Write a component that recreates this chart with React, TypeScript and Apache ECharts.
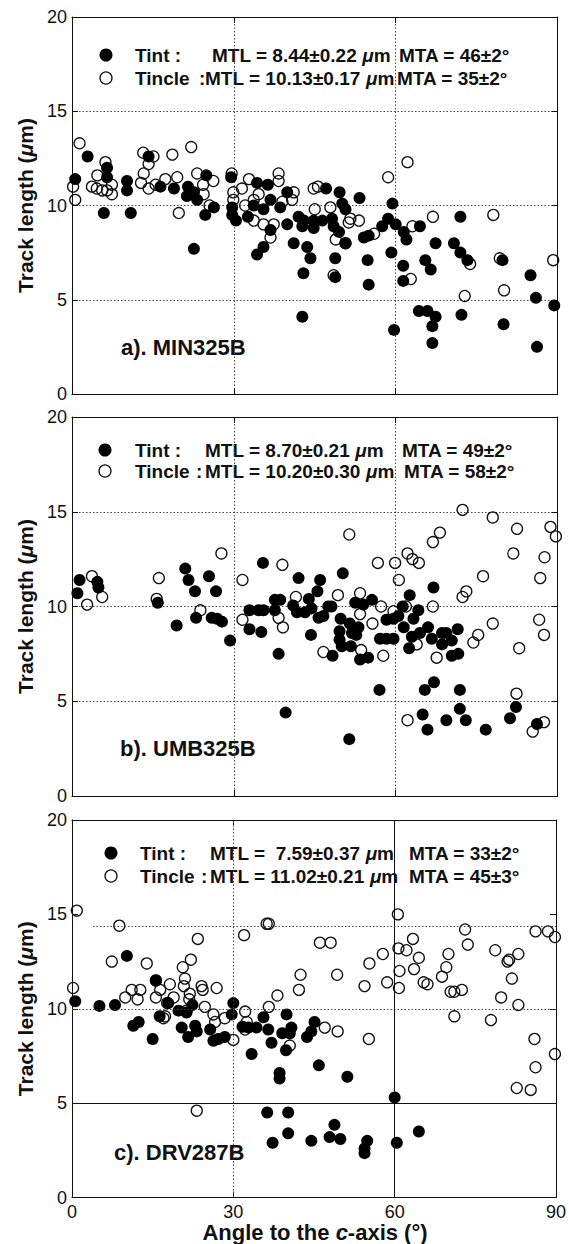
import React, { useEffect, useRef } from "react";
import * as echarts from "echarts";

// ---------- data ----------
const xTicks = { min: 0, max: 90, interval: 30 };
const yTicks = { min: 0, max: 20, interval: 5 };

const panelNames = ["a). MIN325B", "b). UMB325B", "c). DRV287B"];
const mtlTint = ["8.44±0.22", "8.70±0.21", " 7.59±0.37"];
const mtaTint = ["46±2°", "49±2°", "33±2°"];
const mtlTincle = ["10.13±0.17", "10.20±0.30", "11.02±0.21"];
const mtaTincle = ["35±2°", "58±2°", "45±3°"];

const tintA = [
  [0.6, 11.4], [2.9, 12.6], [6.5, 12.0], [6.5, 11.5], [5.9, 9.6], [10.2, 11.3], [10.2, 10.8], [10.9, 9.6],
  [14.2, 12.6], [16.4, 11.0], [18.9, 10.9], [21.5, 11.0], [21.3, 10.5], [22.6, 10.7], [23.2, 10.3], [24.9, 11.6],
  [26.3, 9.9], [24.7, 9.5], [22.6, 7.7], [29.5, 11.5], [29.7, 9.9], [29.7, 9.5], [30.4, 9.2], [32.6, 9.4],
  [34.3, 11.2], [36.3, 11.1], [36.8, 10.3], [35.5, 9.8], [33.7, 10.0], [36.8, 8.7], [35.5, 7.8], [34.3, 7.4],
  [38.6, 9.9], [39.9, 10.7], [39.9, 9.0],
  [42.0, 9.4], [43.0, 9.2], [44.8, 9.2], [46.4, 9.2], [48.2, 9.3], [42.7, 8.9], [44.8, 8.8], [47.1, 10.9],
  [49.6, 10.7], [50.1, 10.1], [50.7, 9.8], [48.5, 8.9], [49.5, 8.6], [53.3, 10.4], [41.1, 8.0], [43.6, 7.8],
  [44.2, 7.2], [42.9, 6.4], [48.8, 7.2], [48.8, 6.2], [50.7, 8.0], [54.1, 8.3], [55.0, 8.4], [54.8, 7.1],
  [55.0, 5.8], [57.5, 8.9], [58.6, 9.3], [60.0, 9.0], [61.5, 8.6], [62.0, 8.2], [59.4, 10.1], [59.2, 7.5],
  [61.4, 6.8], [61.4, 6.0], [64.5, 8.9], [67.4, 8.0], [65.5, 7.1], [66.5, 6.6], [72.0, 9.4], [70.8, 8.0],
  [72.0, 7.5], [73.3, 7.1], [79.8, 7.1], [42.7, 4.1], [59.7, 3.4], [64.3, 4.4], [65.9, 4.4], [67.4, 4.1],
  [66.8, 3.6], [66.8, 2.7], [72.2, 4.2], [80.0, 3.7], [85.0, 6.3], [86.0, 5.1], [89.4, 4.7], [86.2, 2.5],
];
const tincleA = [
  [1.4, 13.3], [0.6, 10.3], [0.2, 11.0], [6.2, 12.3], [4.7, 11.6], [3.7, 11.0], [4.6, 10.9], [5.6, 10.8],
  [6.5, 10.8], [7.4, 10.6], [7.4, 11.1], [13.2, 12.8], [15.1, 12.6], [14.2, 12.2], [13.3, 11.7], [12.8, 11.2],
  [14.2, 10.9], [15.5, 11.1], [17.3, 11.4], [19.5, 11.5], [18.6, 12.7], [22.1, 13.1], [19.8, 9.6], [23.2, 11.7],
  [26.2, 11.3], [24.3, 11.1], [24.4, 10.6], [25.5, 10.0], [29.6, 11.7], [29.9, 10.7], [29.9, 10.3], [31.5, 10.9],
  [32.8, 11.4], [32.1, 10.0], [33.7, 10.3], [34.6, 10.6], [33.7, 9.2], [35.5, 9.0], [36.8, 8.3], [37.4, 9.0],
  [38.3, 11.7], [38.3, 11.3], [39.0, 10.2],
  [41.1, 10.7], [40.8, 10.3], [44.8, 10.9], [45.6, 11.0], [45.0, 9.8], [47.9, 9.9], [51.6, 9.3], [53.2, 9.2],
  [51.3, 9.1], [48.9, 8.2], [50.7, 8.0], [48.5, 6.3], [56.0, 8.5], [58.6, 11.5], [62.2, 12.3], [63.1, 8.9],
  [62.8, 6.1], [66.9, 9.4], [78.1, 9.5], [79.3, 7.2], [73.8, 6.9], [72.8, 5.2], [80.1, 5.5], [89.2, 7.1],
];

const tintB = [
  [1.4, 11.4], [1.0, 10.7], [4.7, 11.3], [4.9, 11.0], [15.9, 10.2], [19.4, 9.0], [21.0, 12.0], [21.6, 11.4],
  [22.8, 10.8], [23.0, 9.4], [25.4, 11.6], [26.7, 10.8], [25.9, 9.4], [26.9, 9.35], [27.8, 9.2], [29.3, 8.2],
  [32.9, 9.8], [34.6, 9.8], [35.5, 9.8], [32.9, 8.8], [35.1, 8.65], [35.4, 12.3], [37.6, 10.35], [38.6, 10.35],
  [37.6, 9.8], [38.3, 7.5], [39.6, 4.4],
  [42.0, 11.5], [46.0, 11.4], [45.5, 10.8], [43.9, 10.4], [50.2, 11.75], [41.0, 10.05], [41.7, 9.7], [43.2, 9.7],
  [44.4, 9.9], [45.7, 9.4], [46.6, 9.5], [47.5, 10.0], [48.1, 10.0], [49.8, 9.35], [51.5, 9.1], [53.1, 8.9],
  [51.9, 8.6], [52.7, 8.5], [49.6, 8.7], [49.6, 8.25], [50.0, 7.9], [51.7, 7.9], [53.4, 7.2], [54.9, 7.3],
  [48.3, 7.4], [44.3, 8.5], [52.5, 10.2], [54.0, 10.1], [55.6, 10.35], [57.1, 8.3], [58.3, 8.3], [59.6, 8.3],
  [58.3, 9.3], [59.6, 9.35], [60.5, 9.5], [61.5, 8.9], [61.3, 10.0], [62.6, 10.6], [64.2, 9.8], [63.3, 9.35],
  [63.0, 8.4], [64.5, 8.6], [62.5, 7.8], [66.0, 8.9], [66.7, 8.3], [67.0, 11.0], [68.6, 8.6], [69.4, 8.6],
  [70.4, 8.2], [68.6, 8.0], [71.5, 8.8], [70.4, 7.4], [71.6, 7.5], [57.0, 5.6], [65.4, 5.6], [67.1, 6.0],
  [71.9, 5.6], [65.0, 4.3], [65.9, 3.5], [71.9, 4.6], [73.0, 4.0], [69.4, 4.0], [76.7, 3.5], [51.4, 3.0],
  [81.2, 4.1], [82.3, 4.7], [86.2, 3.8],
];
const tincleB = [
  [3.7, 11.6], [2.8, 10.1], [5.6, 10.5], [16.1, 11.5], [15.7, 10.4], [23.8, 9.8], [27.7, 12.8], [31.6, 11.4],
  [31.6, 9.3], [39.0, 12.2], [38.3, 9.4], [39.1, 8.9],
  [51.4, 13.8], [41.5, 10.5], [49.3, 10.6], [53.4, 10.7], [53.4, 9.6], [57.3, 10.0], [55.7, 9.1], [53.6, 7.7],
  [46.6, 7.6], [57.7, 7.4], [56.7, 12.3], [59.9, 12.3], [60.6, 11.4], [59.6, 9.75], [62.2, 12.8], [63.1, 12.5],
  [64.3, 12.3], [66.9, 13.4], [68.2, 13.9], [72.4, 15.1], [78.0, 14.7], [81.8, 12.8], [82.5, 14.1], [76.2, 11.6],
  [73.1, 10.8], [72.4, 10.5], [66.9, 10.0], [61.9, 10.0], [63.9, 8.0], [67.6, 7.3], [74.4, 8.1], [75.3, 8.5],
  [78.0, 9.1], [82.9, 7.8], [82.4, 5.4], [62.2, 4.0],
  [88.7, 14.2], [89.7, 13.7], [87.6, 12.6], [86.8, 11.5], [86.6, 9.3], [87.5, 8.5], [85.4, 3.4], [87.5, 3.9],
];

const tintC = [
  [0.6, 10.4], [5.1, 10.15], [8.0, 10.2], [10.2, 12.8], [11.4, 9.1], [12.4, 9.3], [15.0, 8.4], [15.6, 11.5],
  [16.3, 9.6], [17.9, 10.3], [19.8, 9.9], [21.3, 9.8], [22.4, 10.2], [20.4, 9.0], [21.6, 8.5], [22.9, 9.1],
  [23.2, 8.8], [25.7, 8.9], [26.3, 8.3], [27.2, 8.4], [28.4, 8.5], [30.0, 10.3], [29.7, 9.7], [31.7, 9.05],
  [32.8, 9.0], [34.3, 9.0], [33.4, 7.6], [35.6, 9.55], [36.5, 8.9], [37.1, 8.2], [38.6, 6.6], [38.6, 6.3],
  [39.9, 9.7], [39.1, 8.7], [39.8, 7.8], [36.3, 4.5], [37.3, 2.9], [40.2, 4.5], [40.2, 3.4],
  [40.8, 9.0], [40.5, 8.7], [45.1, 9.3], [44.5, 8.8], [43.7, 8.5], [45.9, 7.0], [51.2, 6.4], [60.0, 5.3],
  [44.5, 3.0], [47.9, 3.2], [48.8, 3.85], [49.9, 3.1], [54.9, 3.0], [54.4, 2.35], [54.4, 2.6], [60.4, 2.9],
  [64.5, 3.5],
];
const tincleC = [
  [0.9, 15.2], [0.2, 11.1], [8.8, 14.4], [7.4, 12.5], [13.9, 12.4], [23.4, 13.7], [32.0, 13.9], [36.2, 14.5],
  [36.6, 14.5], [9.9, 10.6], [11.1, 11.0], [12.7, 11.0], [12.2, 10.5], [15.6, 11.5], [16.4, 11.0], [15.6, 10.6],
  [18.2, 11.3], [18.9, 10.6], [17.7, 10.3], [17.3, 9.6], [17.0, 9.5], [20.6, 12.2], [21.0, 11.6], [22.1, 12.6],
  [20.8, 11.2], [21.9, 10.8], [21.8, 10.5], [21.3, 9.9], [24.1, 11.2], [24.3, 11.0], [26.9, 11.1], [24.7, 10.1],
  [26.3, 9.7], [26.6, 9.3], [28.4, 9.5], [30.0, 8.35], [32.2, 9.85], [32.5, 9.3], [32.2, 8.9], [36.6, 10.1],
  [38.2, 10.7], [23.2, 4.6],
  [60.6, 15.0], [46.1, 13.5], [48.1, 13.5], [42.5, 11.8], [42.2, 11.0], [49.3, 11.8], [47.0, 9.0], [49.4, 8.8],
  [55.2, 8.4], [40.5, 8.05], [54.4, 11.2], [55.3, 12.4], [57.8, 12.9], [58.6, 11.4], [60.7, 13.2], [62.2, 13.1],
  [63.4, 13.7], [64.5, 12.7], [60.9, 12.0], [60.8, 11.1], [63.6, 12.1], [65.4, 11.4], [66.1, 11.3], [68.8, 11.7],
  [69.6, 12.2], [70.0, 12.9], [70.4, 10.9], [71.1, 10.9], [72.5, 11.0], [71.1, 9.6], [73.1, 14.2], [73.6, 13.4],
  [77.9, 9.4], [78.7, 13.1], [79.8, 10.6], [81.0, 12.5], [81.3, 12.6], [81.8, 11.6], [83.0, 12.9], [83.0, 10.2],
  [82.7, 5.8], [86.2, 14.1], [88.5, 14.1], [89.8, 13.8], [86.0, 8.4], [86.2, 6.9], [85.3, 5.7], [89.8, 7.6],
];

// panel c reference lines (values on the axes)
const panelCDottedY = [10];
const panelCSolidY = [5];
const panelCDottedX = [30];
const panelCSolidX = [60];
const panelCOffsetLine = { y: 14.36, xFrom: 3.9, xTo: 90 };

const tintSets = [tintA, tintB, tintC];
const tincleSets = [tincleA, tincleB, tincleC];

// ---------- layout ----------
const FONT = "'Liberation Sans', Arial, Helvetica, sans-serif";
const INK = "#111111";
const grids = [
  { top: 17, height: 377 },
  { top: 417, height: 379 },
  { top: 820, height: 377.5 },
];
const legendPos = [
  { cx: 106, y1: 55, y2: 78, xName: 135, xColon: 199, xMtl1: 212, xMtl2: 205, xMta1: 399, xMta2: 397 },
  { cx: 105, y1: 450, y2: 471, xName: 135, xColon: 196, xMtl1: 205, xMtl2: 205, xMta1: 402, xMta2: 404 },
  { cx: 111, y1: 853, y2: 876, xName: 140, xColon: 201, xMtl1: 210, xMtl2: 210, xMta1: 409, xMta2: 409 },
];
const labelPos = [
  { x: 121, y: 347 },
  { x: 120, y: 748 },
  { x: 114, y: 1152 },
];

const dotted = { type: [1.5, 2] as any, color: "#444", width: 1 };
const solid = { type: "solid" as any, color: INK, width: 1 };

function txt(x: number, y: number, text: string, size: number, extra: any = {}) {
  return {
    type: "text",
    x,
    y,
    silent: true,
    ...extra,
    style: {
      text,
      fontSize: size,
      fontWeight: "bold",
      fontFamily: FONT,
      fill: INK,
      align: extra.align || "left",
      verticalAlign: "middle",
      rich: {
        i: { fontStyle: "italic", fontWeight: "bold", fontSize: size, fontFamily: FONT, fill: INK },
      },
    },
  };
}

function buildOption() {
  const xAxis: any[] = [];
  const yAxis: any[] = [];
  const series: any[] = [];
  const graphic: any[] = [];

  grids.forEach((g, i) => {
    const axisLine = { show: true, onZero: false, lineStyle: { color: INK, width: 1 } };
    const axisTick = { show: true, inside: true, length: 6, lineStyle: { color: INK, width: 1 } };
    xAxis.push({
      gridIndex: i, type: "value", ...xTicks, position: "bottom",
      axisLine, axisTick,
      axisLabel: { show: i === 2, fontSize: 18, color: INK, margin: 5, fontFamily: FONT },
      splitLine: { show: i < 2, lineStyle: dotted },
    });
    xAxis.push({
      gridIndex: i, type: "value", ...xTicks, position: "top",
      axisLine, axisTick, axisLabel: { show: false }, splitLine: { show: false },
    });
    yAxis.push({
      gridIndex: i, type: "value", ...yTicks, position: "left",
      axisLine, axisTick,
      axisLabel: { show: true, fontSize: 18, color: INK, margin: 5, fontFamily: FONT },
      splitLine: { show: i < 2, lineStyle: dotted },
    });
    yAxis.push({
      gridIndex: i, type: "value", ...yTicks, position: "right",
      axisLine, axisTick, axisLabel: { show: false }, splitLine: { show: false },
    });

    const tincleSeries: any = {
      name: "Tincle " + panelNames[i],
      type: "scatter",
      xAxisIndex: 2 * i,
      yAxisIndex: 2 * i,
      data: tincleSets[i],
      symbol: "circle",
      symbolSize: 11,
      itemStyle: { color: "rgba(255,255,255,0)", borderColor: INK, borderWidth: 1.3, opacity: 1 },
      z: 3,
    };
    if (i === 2) {
      tincleSeries.markLine = {
        silent: true,
        symbol: ["none", "none"],
        label: { show: false },
        animation: false,
        data: [
          ...panelCDottedY.map((v) => ({ yAxis: v, lineStyle: dotted })),
          ...panelCSolidY.map((v) => ({ yAxis: v, lineStyle: solid })),
          ...panelCDottedX.map((v) => ({ xAxis: v, lineStyle: dotted })),
          ...panelCSolidX.map((v) => ({ xAxis: v, lineStyle: solid })),
          [
            { coord: [panelCOffsetLine.xFrom, panelCOffsetLine.y], lineStyle: dotted },
            { coord: [panelCOffsetLine.xTo, panelCOffsetLine.y] },
          ],
        ],
      };
    }
    series.push(tincleSeries);
    series.push({
      name: "Tint " + panelNames[i],
      type: "scatter",
      xAxisIndex: 2 * i,
      yAxisIndex: 2 * i,
      data: tintSets[i],
      symbol: "circle",
      symbolSize: 12,
      itemStyle: { color: "#000", opacity: 1 },
      z: 4,
    });

    // legend
    const L = legendPos[i];
    graphic.push({ type: "circle", silent: true, shape: { cx: L.cx, cy: L.y1, r: 6.5 }, style: { fill: "#000" } });
    graphic.push({
      type: "circle", silent: true, shape: { cx: L.cx, cy: L.y2, r: 6 },
      style: { fill: "none", stroke: INK, lineWidth: 1.3 },
    });
    graphic.push(txt(L.xName, L.y1, "Tint :", 19));
    graphic.push(txt(L.xMtl1, L.y1, "MTL = " + mtlTint[i] + " {i|μ}m", 19));
    graphic.push(txt(L.xMta1, L.y1, "MTA = " + mtaTint[i], 19));
    graphic.push(txt(L.xName, L.y2, "Tincle", 19));
    graphic.push(txt(L.xColon, L.y2, ":", 19));
    graphic.push(txt(L.xMtl2, L.y2, "MTL = " + mtlTincle[i] + " {i|μ}m", 19));
    graphic.push(txt(L.xMta2, L.y2, "MTA = " + mtaTincle[i], 19));

    // panel label
    graphic.push(txt(labelPos[i].x, labelPos[i].y, panelNames[i], 22));

    // y axis title
    graphic.push(
      txt(25, g.top + g.height / 2, "Track length ({i|μ}m)", 21, { rotation: Math.PI / 2, align: "center" })
    );
  });

  graphic.push(txt(315, 1232, "Angle to the {i|c}-axis (°)", 22, { align: "center" }));

  return {
    animation: false,
    backgroundColor: "#ffffff",
    textStyle: { fontFamily: FONT },
    grid: grids.map((g) => ({ left: 72, right: 11.5, top: g.top, height: g.height })),
    xAxis,
    yAxis,
    series,
    graphic: { elements: graphic },
  };
}

export default function App() {
  const ref = useRef<HTMLDivElement>(null);
  useEffect(() => {
    if (!ref.current) return;
    const chart = echarts.init(ref.current, undefined, { renderer: "svg" });
    chart.setOption(buildOption() as any);
    return () => chart.dispose();
  }, []);
  return (
    <div
      ref={ref}
      style={{ position: "absolute", left: 0, top: 0, width: 569, height: 1244, background: "#fff" }}
    />
  );
}
